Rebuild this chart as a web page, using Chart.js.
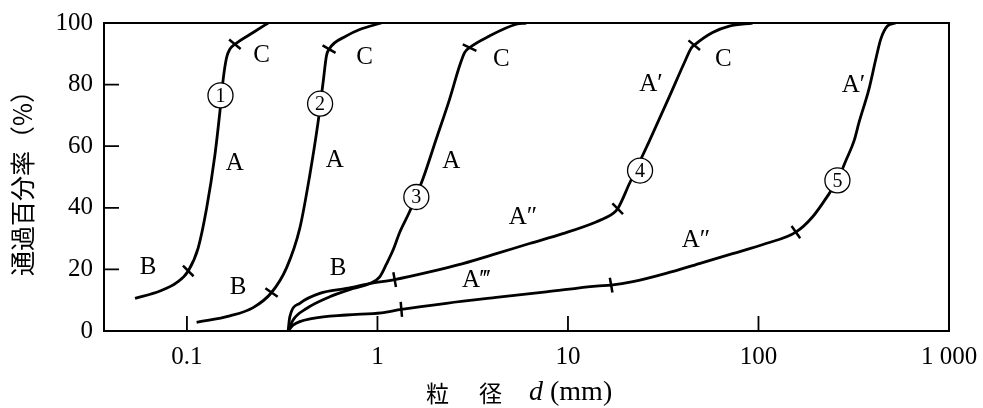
<!DOCTYPE html>
<html>
<head>
<meta charset="utf-8">
<script src="https://cdn.jsdelivr.net/npm/chart.js@4/dist/chart.umd.min.js"></script>
<style>
  html, body { margin: 0; padding: 0; background: #fff; }
  #wrap { width: 983px; height: 408px; }
</style>
</head>
<body>
<div id="wrap"><canvas id="chart_container" width="983" height="408"></canvas></div>
<script>
// grading curves: particle size d (mm) vs. percent passing (%)
const sizes1 = [0.0534, 0.0722, 0.0883, 0.1016, 0.1146, 0.1269, 0.1402, 0.1489, 0.155, 0.1615, 0.168, 0.1785, 0.2226, 0.2668]
const pass1  = [10.6, 13.0, 15.7, 19.5, 27.0, 39.9, 57.1, 71.1, 81.8, 88.8, 91.5, 93.1, 96.9, 100]

const sizes2 = [0.1124, 0.168, 0.2226, 0.278, 0.3332, 0.3913, 0.4413, 0.4879, 0.5184, 0.54, 0.5572, 0.6874, 0.807, 1.049]
const pass2  = [2.8, 4.9, 7.6, 12.5, 20.5, 33.4, 50.6, 67.8, 80.7, 89.4, 91.5, 95.8, 97.9, 100]

const sizes3 = [0.3397, 0.3608, 0.4241, 0.5619, 0.7445, 0.911, 1.028, 1.114, 1.206, 1.308, 1.476, 1.6, 1.733, 2.037, 2.392, 2.699, 2.867, 3.045, 3.877, 5.35, 6.04]
const pass3  = [0, 3.6, 7.3, 11.1, 13.8, 15.4, 17.6, 21.7, 26.2, 32.0, 38.8, 44.0, 49.4, 62.4, 75.3, 86.1, 90.4, 92.0, 95.8, 99.6, 100]

const sizes4 = [0.3397, 0.3467, 0.3913, 0.4981, 0.6874, 0.911, 1.231, 1.879, 2.809, 4.204, 6.285, 9.39, 14.05, 17.18, 18.24, 21.0, 26.8, 34.05, 40.8, 44.4, 46.0, 57.4, 70.3, 93.1]
const pass4  = [0, 4.6, 9.0, 12.2, 13.8, 15.4, 16.7, 19.2, 21.9, 25.1, 28.4, 31.6, 35.4, 38.1, 39.7, 47.8, 61.8, 76.1, 87.1, 91.9, 92.8, 96.9, 99.0, 100]

const sizes5 = [0.3397, 0.3608, 0.4593, 0.6874, 1.049, 1.335, 2.299, 4.204, 7.689, 14.05, 16.85, 21.9, 32.7, 48.9, 73.1, 109.4, 157.1, 192.0, 234.9, 259.6, 287.3, 317.7, 337, 380, 413, 438, 475, 525]
const pass5  = [0, 1.9, 4.1, 5.2, 5.9, 7.0, 9.0, 10.9, 12.7, 14.6, 14.9, 16.0, 18.7, 21.9, 25.1, 28.4, 32.1, 37.0, 44.6, 48.9, 55.3, 61.8, 67.7, 78.5, 88.3, 94.7, 99, 100]

// boundary marks between the zones
const markSizes = [0.1016, 0.1785, 0.278, 0.5572, 3.045, 1.231, 18.24, 46.0, 1.335, 16.85, 157.1]
const markPass  = [19.5, 93.1, 12.5, 91.5, 92.0, 16.7, 39.7, 92.8, 7.0, 14.9, 32.1]
const markTilt  = [45, 40, 35, 30, 25, 80, 45, 40, 85, 80, 55]

// zone letters
const zoneText  = ['B', 'A', 'C', 'B', 'A', 'C', 'B', 'A', 'C', 'A″', 'A‴', 'A′', 'C', 'A″', 'A′']
const zoneSizes = [0.0626, 0.1785, 0.2466, 0.1858, 0.597, 0.857, 0.621, 2.442, 4.466, 5.80, 3.30, 27.3, 65.3, 47.0, 315]
const zonePass  = [20.5, 54.4, 89.4, 14.1, 55.5, 88.8, 20.2, 54.9, 88.3, 37.0, 16.5, 80.2, 88.3, 29.4, 79.7]

// curve numbers
const curveNo    = ['1', '2', '3', '4', '5']
const curveSizes = [0.150, 0.50, 1.6, 23.9, 259.6]
const curvePass  = [76.5, 73.8, 43.5, 52.1, 48.9]

const xTicks = [0.1, 1, 10, 100, 1000]
const xTickText = ['0.1', '1', '10', '100', '1 000']
const yTicks = [0, 20, 40, 60, 80, 100]

const serif = "'Liberation Serif', 'Times New Roman', serif"
const cjk = "'Noto Sans CJK JP', 'Noto Sans CJK SC', sans-serif"

function points(xs, ys){
    return xs.map((v, i) => ({ x: v, y: ys[i] }))
}

function curve(xs, ys){
    return {
        data: points(xs, ys),
        borderColor: '#000',
        borderWidth: 2.8,
        pointRadius: 0,
        fill: false,
        cubicInterpolationMode: 'monotone'
    }
}

const overlay = {
    id: 'overlay',
    afterDatasetsDraw(chart){
        const { ctx, chartArea: a, scales } = chart
        const x = scales.x, y = scales.y
        ctx.save()
        ctx.strokeStyle = '#000'
        ctx.fillStyle = '#000'

        // frame
        ctx.lineWidth = 2
        ctx.strokeRect(a.left, a.top, a.right - a.left, a.bottom - a.top)

        // inward tick marks
        ctx.lineWidth = 1.8
        ctx.beginPath()
        xTicks.slice(0, -1).forEach(v => {
            const px = x.getPixelForValue(v)
            ctx.moveTo(px, a.bottom)
            ctx.lineTo(px, a.bottom - 15)
        })
        yTicks.slice(1, -1).forEach(v => {
            const py = y.getPixelForValue(v)
            ctx.moveTo(a.left, py)
            ctx.lineTo(a.left + 15, py)
        })
        ctx.stroke()

        // zone letters
        ctx.font = '25px ' + serif
        ctx.textAlign = 'center'
        ctx.textBaseline = 'middle'
        zoneText.forEach((t, i) => {
            ctx.fillText(t, x.getPixelForValue(zoneSizes[i]), y.getPixelForValue(zonePass[i]))
        })

        // circled curve numbers
        curveNo.forEach((t, i) => {
            const px = x.getPixelForValue(curveSizes[i])
            const py = y.getPixelForValue(curvePass[i])
            ctx.beginPath()
            ctx.arc(px, py, 12.5, 0, Math.PI * 2)
            ctx.fillStyle = '#fff'
            ctx.fill()
            ctx.lineWidth = 1.3
            ctx.stroke()
            ctx.fillStyle = '#000'
            ctx.font = '20px ' + serif
            ctx.fillText(t, px, py + 1)
        })

        // x axis title
        const tY = 393
        ctx.textAlign = 'left'
        ctx.font = '23px ' + cjk
        ctx.fillText('粒', 426, tY)
        ctx.fillText('径', 479, tY)
        ctx.font = 'italic 28px ' + serif
        ctx.fillText('d', 529, tY)
        ctx.font = '28px ' + serif
        ctx.fillText('(mm)', 550, tY)

        // y axis title
        ctx.font = '25px ' + cjk
        ctx.translate(22, 177)
        ctx.rotate(-Math.PI / 2)
        ctx.textAlign = 'center'
        ctx.fillText('通過百分率（%）', 0, 0)
        ctx.restore()
    }
}

const canvas = document.getElementById('chart_container')
new Chart(canvas, {
    type: 'line',
    data: {
        datasets: [
            curve(sizes1, pass1),
            curve(sizes2, pass2),
            curve(sizes3, pass3),
            curve(sizes4, pass4),
            curve(sizes5, pass5),
            {
                data: points(markSizes, markPass),
                showLine: false,
                pointStyle: 'line',
                pointRadius: 7.5,
                pointBorderWidth: 2.5,
                pointBorderColor: '#000',
                pointRotation: markTilt,
                borderColor: '#000'
            }
        ]
    },
    options: {
        responsive: false,
        animation: false,
        devicePixelRatio: 1,
        layout: { padding: { top: 23, right: 34, left: 0, bottom: 0 } },
        plugins: {
            legend: { display: false },
            tooltip: { enabled: false }
        },
        scales: {
            x: {
                type: 'logarithmic',
                min: 0.0367,
                max: 1000,
                grid: { display: false, drawTicks: false },
                border: { display: false },
                afterBuildTicks: scale => { scale.ticks = xTicks.map(v => ({ value: v })) },
                afterFit: scale => {
                    scale.height = 77
                    scale.paddingLeft = 0
                    scale.paddingRight = 0
                },
                ticks: {
                    autoSkip: false,
                    maxRotation: 0,
                    padding: 11,
                    color: '#000',
                    font: { family: serif, size: 25 },
                    callback: v => xTickText[xTicks.indexOf(v)]
                }
            },
            y: {
                min: 0,
                max: 100,
                grid: { display: false, drawTicks: false },
                border: { display: false },
                afterBuildTicks: scale => { scale.ticks = yTicks.map(v => ({ value: v })) },
                afterFit: scale => {
                    scale.width = 104
                    scale.paddingTop = 0
                    scale.paddingBottom = 0
                },
                ticks: {
                    padding: 11,
                    color: '#000',
                    font: { family: serif, size: 25 }
                }
            }
        }
    },
    plugins: [overlay]
})
</script>
</body>
</html>
